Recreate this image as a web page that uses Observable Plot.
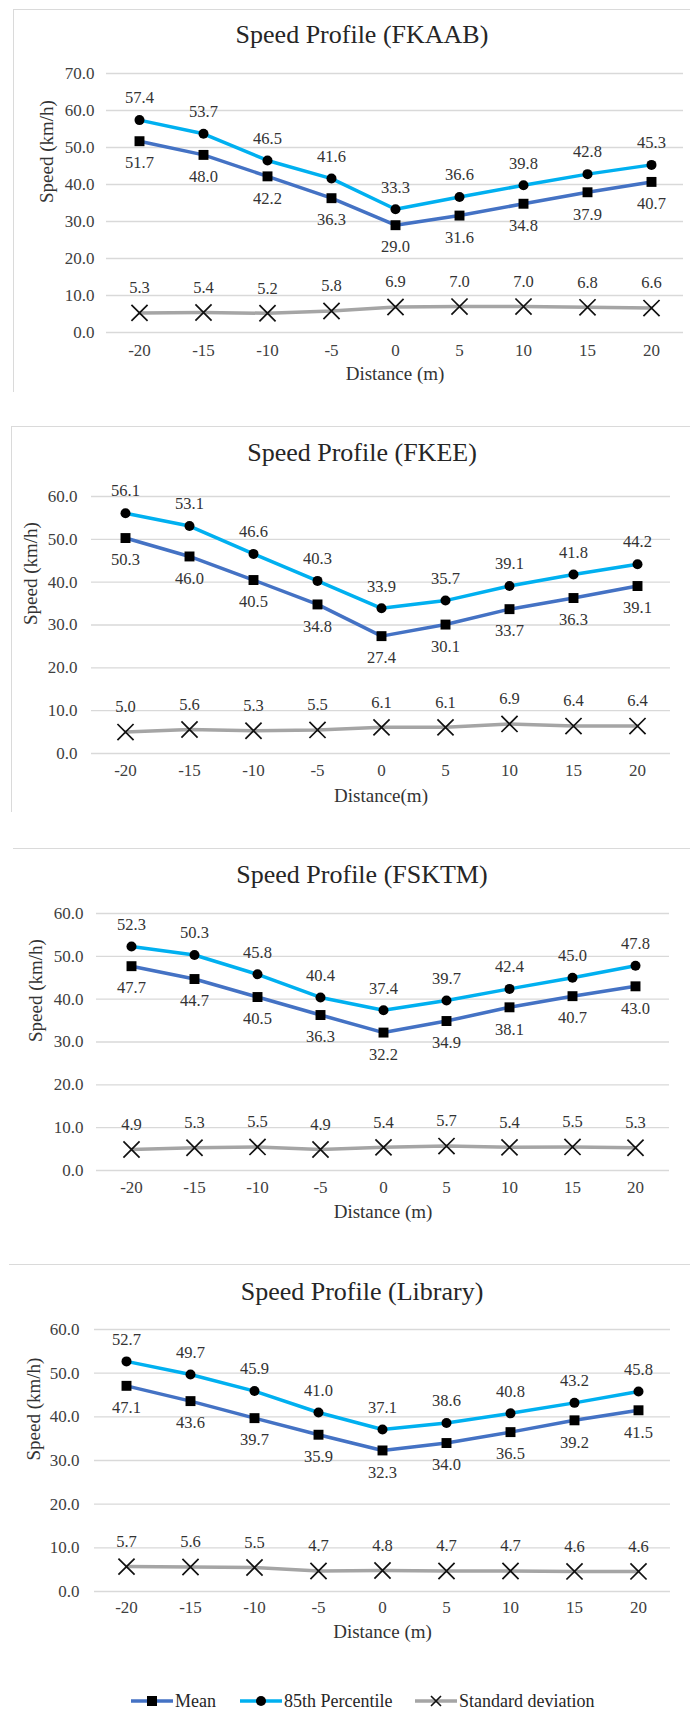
<!DOCTYPE html>
<html><head><meta charset="utf-8">
<script src="https://cdn.jsdelivr.net/npm/d3@7"></script>
<script src="https://cdn.jsdelivr.net/npm/@observablehq/plot@0.6"></script>
<style>
html,body{margin:0;padding:0;background:#fff;}
body{width:690px;height:1709px;overflow:hidden;position:relative;font-family:'Liberation Serif','Times New Roman',serif;}
.title{position:absolute;left:62px;width:600px;text-align:center;font-size:26px;line-height:30px;color:#262626;white-space:nowrap;}
.hline{position:absolute;height:0;border-top:1.5px solid #dadada;}
.vline{position:absolute;width:0;border-left:1.5px solid #dadada;}
.legitem{position:absolute;top:1689px;height:24px;display:flex;align-items:center;font-size:18px;color:#262626;white-space:nowrap;}
.legitem svg{margin-right:2px;}
svg text{font-family:'Liberation Serif','Times New Roman',serif;}
</style></head><body>
<script>
const FONT = "'Liberation Serif', 'Times New Roman', serif";
const distances = ["-20","-15","-10","-5","0","5","10","15","20"];
const titles = ["Speed Profile (FKAAB)","Speed Profile (FKEE)","Speed Profile (FSKTM)","Speed Profile (Library)"];
const xLabels = ["Distance (m)","Distance(m)","Distance (m)","Distance (m)"];
const yLabel = "Speed (km/h)";
const seriesNames = ["Mean","85th Percentile","Standard deviation"];

const meanFKAAB = [51.7,48.0,42.2,36.3,29.0,31.6,34.8,37.9,40.7];
const p85FKAAB  = [57.4,53.7,46.5,41.6,33.3,36.6,39.8,42.8,45.3];
const sdFKAAB   = [5.3,5.4,5.2,5.8,6.9,7.0,7.0,6.8,6.6];

const meanFKEE = [50.3,46.0,40.5,34.8,27.4,30.1,33.7,36.3,39.1];
const p85FKEE  = [56.1,53.1,46.6,40.3,33.9,35.7,39.1,41.8,44.2];
const sdFKEE   = [5.0,5.6,5.3,5.5,6.1,6.1,6.9,6.4,6.4];

const meanFSKTM = [47.7,44.7,40.5,36.3,32.2,34.9,38.1,40.7,43.0];
const p85FSKTM  = [52.3,50.3,45.8,40.4,37.4,39.7,42.4,45.0,47.8];
const sdFSKTM   = [4.9,5.3,5.5,4.9,5.4,5.7,5.4,5.5,5.3];

const meanLibrary = [47.1,43.6,39.7,35.9,32.3,34.0,36.5,39.2,41.5];
const p85Library  = [52.7,49.7,45.9,41.0,37.1,38.6,40.8,43.2,45.8];
const sdLibrary   = [5.7,5.6,5.5,4.7,4.8,4.7,4.7,4.6,4.6];

const yTicks1 = [0,10,20,30,40,50,60,70];
const yTicks = [0,10,20,30,40,50,60];

const means = [meanFKAAB, meanFKEE, meanFSKTM, meanLibrary];
const p85s = [p85FKAAB, p85FKEE, p85FSKTM, p85Library];
const sds = [sdFKAAB, sdFKEE, sdFSKTM, sdLibrary];
const tickSets = [yTicks1, yTicks, yTicks, yTicks];

const colors = {mean:"#4472c4", p85:"#00b0f0", sd:"#a5a5a5"};

const layouts = [
  {top:0,    height:392, mt:73, mb:60, ml:106, mr:7,  typad:12, txpad:11.7, xlab:41, ylab:-60, titleY:35,
   frame:{top:9, left:13, bottom:392, vertical:true}},
  {top:426,  height:386, mt:70, mb:59, ml:91,  mr:20, typad:14, txpad:10.7, xlab:42, ylab:-61, titleY:453,
   frame:{top:426, left:11, bottom:812, vertical:true}},
  {top:848,  height:390, mt:65, mb:68, ml:96,  mr:21, typad:13, txpad:10.7, xlab:41, ylab:-61, titleY:875,
   frame:{top:848, left:13, vertical:false}},
  {top:1264, height:396, mt:65, mb:69, ml:94,  mr:20, typad:15, txpad:9.7,  xlab:40, ylab:-61, titleY:1292,
   frame:{top:1264, left:9, vertical:false}}
];

const fmt = d3.format(".1f");

function addDiv(cls, styles, text) {
  const el = document.createElement("div");
  el.className = cls;
  Object.assign(el.style, styles);
  if (text != null) el.textContent = text;
  document.body.appendChild(el);
  return el;
}

layouts.forEach((L, i) => {
  addDiv("hline", {top: L.frame.top + "px", left: L.frame.left + "px", width: (690 - L.frame.left) + "px"});
  if (L.frame.vertical) addDiv("vline", {top: L.frame.top + "px", left: L.frame.left + "px", height: (L.frame.bottom - L.frame.top) + "px"});

  const data = distances.map((d, j) => ({d, mean: means[i][j], p85: p85s[i][j], sd: sds[i][j]}));
  const ticks = tickSets[i];
  const ymax = ticks[ticks.length - 1];
  const txt = {fontFamily: FONT, fill: "#333"};

  const plot = Plot.plot({
    width: 690, height: L.height,
    marginTop: L.mt, marginBottom: L.mb, marginLeft: L.ml, marginRight: L.mr,
    style: {fontFamily: FONT, fontSize: "17px", background: "transparent", overflow: "visible"},
    x: {type: "point", domain: distances, padding: 0.5},
    y: {domain: [0, ymax]},
    marks: [
      Plot.ruleY(ticks, {stroke: "#d9d9d9", strokeWidth: 1.4}),
      Plot.axisY({ticks, tickSize: 0, tickPadding: L.typad, tickFormat: fmt, fill: "#404040", fontFamily: FONT, fontSize: 17, label: null}),
      Plot.axisX({tickSize: 0, tickPadding: L.txpad, fill: "#404040", fontFamily: FONT, fontSize: 17, label: null}),
      Plot.line(data, {x: "d", y: "sd", stroke: colors.sd, strokeWidth: 3.5}),
      Plot.line(data, {x: "d", y: "mean", stroke: colors.mean, strokeWidth: 3.5}),
      Plot.line(data, {x: "d", y: "p85", stroke: colors.p85, strokeWidth: 3.5}),
      Plot.dot(data, {x: "d", y: "sd", symbol: "times", r: 7.4, stroke: "#111", strokeWidth: 1.7}),
      Plot.dot(data, {x: "d", y: "mean", symbol: "square", r: 5.6, fill: "#000", stroke: "none"}),
      Plot.dot(data, {x: "d", y: "p85", symbol: "circle", r: 5, fill: "#000", stroke: "none"}),
      Plot.text(data, {x: "d", y: "p85", text: r => fmt(r.p85), dy: -22, fontSize: 16.5, ...txt}),
      Plot.text(data, {x: "d", y: "mean", text: r => fmt(r.mean), dy: 22, fontSize: 16.5, ...txt}),
      Plot.text(data, {x: "d", y: "sd", text: r => fmt(r.sd), dy: -25, fontSize: 16.5, ...txt}),
      Plot.text([xLabels[i]], {text: t => t, frameAnchor: "bottom", dy: L.xlab, fontSize: 19, lineAnchor: "middle", ...txt}),
      Plot.text([yLabel], {text: t => t, frameAnchor: "left", rotate: -90, dx: L.ylab, fontSize: 19, ...txt})
    ]
  });
  plot.style.position = "absolute";
  plot.style.left = "0px";
  plot.style.top = L.top + "px";
  document.body.appendChild(plot);

  addDiv("title", {top: (L.titleY - 15) + "px"}, titles[i]);
});

function swatch(kind) {
  const ns = "http://www.w3.org/2000/svg";
  const svg = document.createElementNS(ns, "svg");
  svg.setAttribute("width", 42); svg.setAttribute("height", 22);
  const line = document.createElementNS(ns, "line");
  line.setAttribute("x1", 0); line.setAttribute("x2", 42); line.setAttribute("y1", 11); line.setAttribute("y2", 11);
  line.setAttribute("stroke", colors[kind]); line.setAttribute("stroke-width", 3.5);
  svg.appendChild(line);
  let m;
  if (kind === "mean") {
    m = document.createElementNS(ns, "rect");
    m.setAttribute("x", 16); m.setAttribute("y", 6); m.setAttribute("width", 10); m.setAttribute("height", 10); m.setAttribute("fill", "#000");
  } else if (kind === "p85") {
    m = document.createElementNS(ns, "circle");
    m.setAttribute("cx", 21); m.setAttribute("cy", 11); m.setAttribute("r", 5); m.setAttribute("fill", "#000");
  } else {
    m = document.createElementNS(ns, "path");
    m.setAttribute("d", "M16,6L26,16M26,6L16,16"); m.setAttribute("stroke", "#111"); m.setAttribute("stroke-width", 1.6); m.setAttribute("fill", "none");
  }
  svg.appendChild(m);
  return svg;
}
const legendX = [131, 240, 415];
["mean","p85","sd"].forEach((k, j) => {
  const item = addDiv("legitem", {left: legendX[j] + "px"});
  item.appendChild(swatch(k));
  const span = document.createElement("span");
  span.textContent = seriesNames[j];
  item.appendChild(span);
});
</script>
</body></html>
